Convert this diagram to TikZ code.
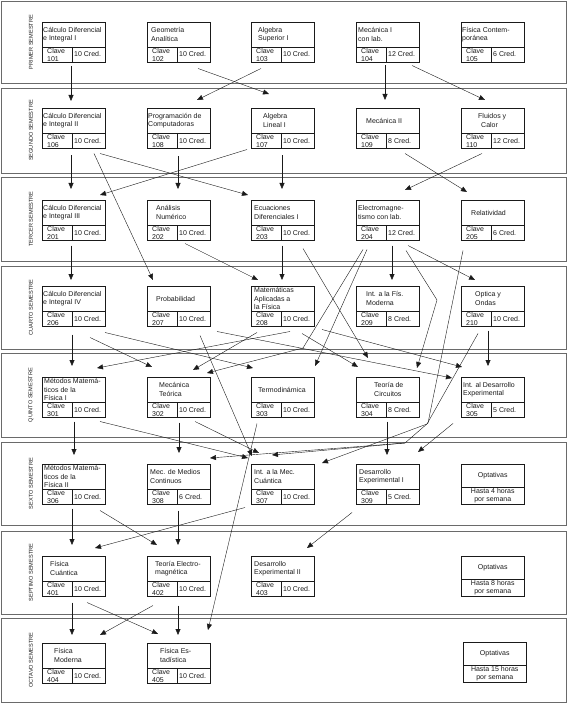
\documentclass[tikz,border=0pt]{standalone}
\usepackage{fontspec}
\setmainfont{Liberation Sans}
\usetikzlibrary{arrows.meta,calc,positioning}
\definecolor{Ink}{HTML}{1A1A1A}
\definecolor{Marco}{HTML}{6A6A6A}
\tikzset{
  cursobox/.style={draw=Ink, line width=0.5pt, anchor=north west,
    minimum width=63pt, minimum height=40pt, inner sep=0pt},
  cursoline/.style={draw=Ink, line width=0.5pt},
  cursotxt/.style={font=\fontsize{7}{8.2}\selectfont, text=Ink,
    inner sep=0pt, align=left},
  banda/.style={draw=Marco, line width=0.7pt},
  semestre/.style={font=\fontsize{5.6}{6.5}\selectfont, text=Ink, rotate=90},
  prq/.style={draw=Ink, line width=0.4pt, -{Triangle[length=6pt,width=5pt]}}
}
\newcommand{\curso}[6]{%
  \node[cursobox] (#1) at (#2) {};
  \draw[cursoline] ([yshift=-25pt]#1.north west) -- ([yshift=-25pt]#1.north east);
  \draw[cursoline] ([xshift=30pt,yshift=-25pt]#1.north west) -- ([xshift=30pt]#1.south west);
  \node[cursotxt,anchor=west] (#1-nom) at ([xshift=#3pt,yshift=-12.5pt]#1.north west) {#4};
  \node[cursotxt,anchor=north west] (#1-clv) at ([xshift=5pt,yshift=-26pt]#1.north west) {Clave\\#5};
  \node[cursotxt,anchor=west] (#1-cr) at ([xshift=32pt,yshift=-32.5pt]#1.north west) {#6};
}
\newcommand{\optativa}[3]{%
  \node[cursobox] (#1) at (#2) {};
  \draw[cursoline] ([yshift=-23pt]#1.north west) -- ([yshift=-23pt]#1.north east);
  \node[cursotxt] (#1-nom) at ([yshift=-11.5pt]#1.north) {Optativas};
  \node[cursotxt,align=center] (#1-hr) at ([yshift=-31.5pt]#1.north) {#3\\por semana};
}
\begin{document}
\begin{tikzpicture}[x=1pt,y=-1pt]
\useasboundingbox (0,0) rectangle (567,703);
\foreach \t/\b/\lab/\n in {1/83/PRIMER SEMESTRE/1, 88/173/SEGUNDO SEMESTRE/2,
    177/261/TERCER SEMESTRE/3, 266/349/CUARTO SEMESTRE/4,
    353/437/QUINTO SEMESTRE/5, 442/525/SEXTO SEMESTRE/6,
    531/614/SEPTIMO SEMESTRE/7, 618/702/OCTAVO SEMESTRE/8}{
  \draw[banda] (1,\t) rectangle (566,\b);
  \node[semestre] (sem\n) at (31,{(\t+\b)/2}) {\lab};
}
% primer semestre
\curso{c101}{42,22}{1}{Cálculo Diferencial\\e Integral I}{101}{10 Cred.}
\curso{c102}{147,22}{4}{Geometría\\Analítica}{102}{10 Cred.}
\curso{c103}{251,22}{7}{Algebra\\Superior I}{103}{10 Cred.}
\curso{c104}{356,22}{2}{Mecánica I\\con lab.}{104}{12 Cred.}
\curso{c105}{461,22}{1}{Física Contem-\\poránea}{105}{6 Cred.}
% segundo semestre
\curso{c106}{42,108}{1}{Cálculo Diferencial\\e Integral II}{106}{10 Cred.}
\curso{c108}{147,108}{1}{Programación de\\Computadoras}{108}{10 Cred.}
\curso{c107}{251,108}{12}{Algebra\\Lineal I}{107}{10 Cred.}
\curso{c109}{356,108}{10}{Mecánica II}{109}{8 Cred.}
\curso{c110}{461,108}{17}{Fluidos y\\\hspace*{3pt}Calor}{110}{12 Cred.}
% tercer semestre
\curso{c201}{42,200}{1}{Cálculo Diferencial\\e Integral III}{201}{10 Cred.}
\curso{c202}{147,200}{9}{Análisis\\Numérico}{202}{10 Cred.}
\curso{c203}{251,200}{3}{Ecuaciones\\Diferenciales I}{203}{10 Cred.}
\curso{c204}{356,200}{2}{Electromagne-\\tismo con lab.}{204}{12 Cred.}
\curso{c205}{461,200}{10}{Relatividad}{205}{6 Cred.}
% cuarto semestre
\curso{c206}{42,286}{1}{Cálculo Diferencial\\e Integral IV}{206}{10 Cred.}
\curso{c207}{147,286}{9}{Probabilidad}{207}{10 Cred.}
\curso{c208}{251,286}{3}{Matemáticas\\Aplicadas a\\la Física}{208}{10 Cred.}
\curso{c209}{356,286}{10}{Int. a la Fís.\\Moderna}{209}{8 Cred.}
\curso{c210}{461,286}{14}{Optica y\\Ondas}{210}{10 Cred.}
% quinto semestre
\curso{c301}{42,377}{2}{Métodos Matemá-\\ticos de la\\Física I}{301}{10 Cred.}
\curso{c302}{147,377}{12}{Mecánica\\Teórica}{302}{10 Cred.}
\curso{c303}{251,377}{7}{Termodinámica}{303}{10 Cred.}
\curso{c304}{356,377}{18}{Teoría de\\Circuitos}{304}{8 Cred.}
\curso{c305}{461,377}{2}{Int. al Desarrollo\\Experimental}{305}{5 Cred.}
% sexto semestre
\curso{c306}{42,464}{2}{Métodos Matemá-\\ticos de la\\Física II}{306}{10 Cred.}
\curso{c308}{147,464}{3}{Mec. de Medios\\Continuos}{308}{6 Cred.}
\curso{c307}{251,464}{3}{Int. a la Mec.\\Cuántica}{307}{10 Cred.}
\curso{c309}{356,464}{3}{Desarrollo\\Experimental I}{309}{5 Cred.}
\optativa{op6}{461,464}{Hasta 4 horas}
% septimo semestre
\curso{c401}{42,556}{8}{Física\\Cuántica}{401}{10 Cred.}
\curso{c402}{147,556}{8}{Teoría Electro-\\magnética}{402}{10 Cred.}
\curso{c403}{251,556}{3}{Desarrollo\\Experimental II}{403}{10 Cred.}
\optativa{op7}{461,556}{Hasta 8 horas}
% octavo semestre
\curso{c404}{42,643}{12}{Física\\Moderna}{404}{10 Cred.}
\curso{c405}{147,643}{13}{Física Es-\\tadística}{405}{10 Cred.}
\optativa{op8}{463,642}{Hasta 15 horas}
% seriacion
\foreach \a/\ax/\ay/\b/\bx/\by in {
  c101/29/4/c106/29/-7, c102/51/6/c107/18/-14, c103/10/6/c108/50/-8,
  c104/29/3/c109/29/-8, c104/56/3/c110/24/-8,
  c106/29/7/c201/29/-11, c106/52/5/c207/6/-6, c106/58/5/c203/-3/-5,
  c108/31/8/c202/31/-11, c107/-4/1/c201/58/-5, c107/31/7/c203/31/-11,
  c109/49/5/c205/6/-8, c110/21/5/c204/49/-10,
  c201/29/5/c206/29/-6, c202/38/3/c208/7/-6, c203/31/5/c208/31/-6,
  c204/36/5/c209/36/-6, c204/52/5/c210/14/-6,
  c206/30/8/c301/30/-11, c208/39/5/c301/55/-9, c206/48/11/c302/5/-10,
  c208/6/6/c302/46/-7, c206/63/6/c303/2/-9, c204/11/9/c303/64/-11,
  c203/52/8/c304/12/-19, c208/51/7/c304/2/-10, c208/71/3/c305/1/-10,
  c207/70/5/c305/-9/1, c210/27/4/c305/27/-11,
  c301/32/4/c306/32/-9, c302/32/5/c308/32/-11, c301/58/4/c307/-3/-6,
  c302/48/4/c307/8/-11, c207/53/9/c307/1/-8, c303/6/6/c405/61/-13,
  c304/31/4/c309/31/-9, c305/-8/6/c309/62/-12,
  c306/30/4/c401/30/-11, c306/58/6/c402/10/-11, c308/31/6/c402/31/-11,
  c307/-6/3/c401/53/-8, c309/-4/8/c403/56/-8,
  c401/30/6/c404/30/-8, c401/45/6/c405/11/-9, c402/6/9/c404/58/-8,
  c402/31/9/c405/31/-8}
  \draw[prq] ($(\a.south west)+(\ax,\ay)$) -- ($(\b.north west)+(\bx,\by)$);
% lineas quebradas
\coordinate (q204a) at (303,348);
\coordinate (q204b) at (437,300);
\coordinate (q210) at (427,424);
\coordinate (q205a) at (428,423);
\coordinate (q205b) at (405,443);
\draw[prq] ($(c204.south west)+(7,9)$) -- (q204a) -- ($(c302.north west)+(60,-4)$);
\draw[prq] ($(c204.south west)+(50,10)$) -- (q204b) -- ($(c304.north west)+(61,-9)$);
\draw[prq] ($(c210.south west)+(17,7)$) -- (q210) -- ($(c307.north west)+(71,-1)$);
\draw[prq] ($(c205.south west)+(2,10)$) -- (q205a) -- (q205b) -- ($(c307.north west)+(21,-9)$);
\draw[prq] (q205b) -- ($(c308.north west)+(63,-6)$);
\end{tikzpicture}
\end{document}
